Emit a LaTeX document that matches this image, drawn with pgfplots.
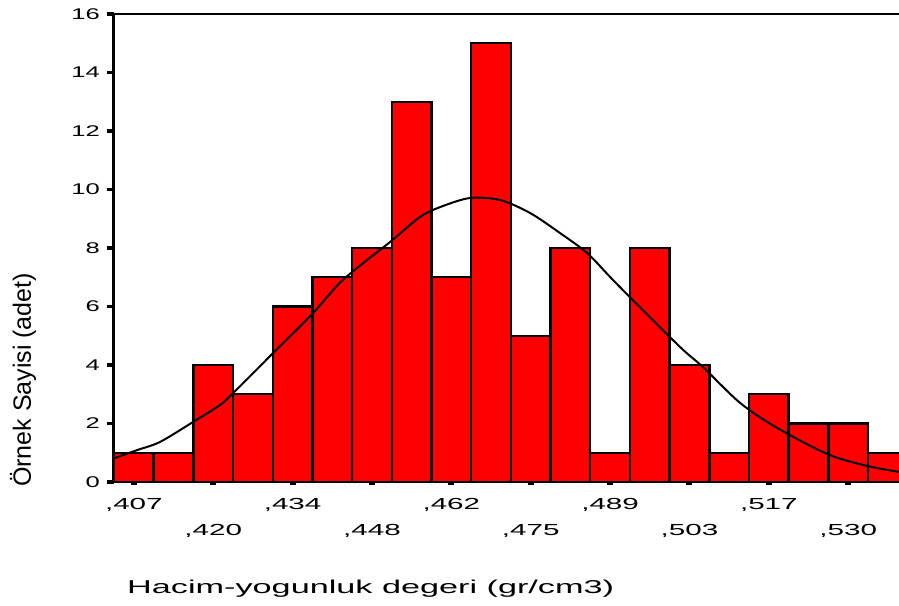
\documentclass[border=0pt]{standalone}
\usepackage{graphicx}
\usepackage{fontspec}
\setmainfont{Liberation Sans}
\usepackage{pgfplots}
\pgfplotsset{compat=1.18}

% wide, flat lettering for the tick labels and the x label
\newcommand\sx[1]{\scalebox{1.65}[1]{\fontsize{7.75}{9}\selectfont #1}}
\newcommand\tx[1]{\scalebox{1.85}[1]{\fontsize{8}{9}\selectfont #1}}
\newcommand\lx[1]{\scalebox{1.84}[1]{\fontsize{9.3}{11}\selectfont #1}}

\begin{document}
\begin{tikzpicture}
\begin{axis}[
  name=ax,
  scale only axis,
  width=392.5pt, height=234pt,
  xmin=0.5, xmax=20.28,
  ymin=0, ymax=16,
  axis x line=bottom, axis y line=left,
  x axis line style={-, line width=1.2pt},
  y axis line style={-, line width=1.5pt},
  tick align=outside,
  major tick length=3.5pt,
  minor tick length=1.4pt,
  ytick={0,2,...,16},
  yticklabels={\sx{0},\sx{2},\sx{4},\sx{6},\sx{8},\sx{10},\sx{12},\sx{14},\sx{16}},
  major y tick style={line width=1.6pt, black},
  major x tick style={draw=none},
  minor x tick style={line width=3pt, black},
  minor xtick={1,3,...,19},
  xtick={1,5,9,13,17},
  xticklabels={{\tx{,407}},{\tx{,434}},{\tx{,462}},{\tx{,489}},{\tx{,517}}},
  extra x ticks={3,7,11,15,19},
  extra x tick labels={{\tx{,420}},{\tx{,448}},{\tx{,475}},{\tx{,503}},{\tx{,530}}},
  extra x tick style={xticklabel style={yshift=-13pt}},
  xticklabel style={anchor=north, yshift=-1pt},
  xlabel={\lx{Hacim-yogunluk degeri (gr/cm3)}},
  xlabel style={at={(axis description cs:0.327,0)}, anchor=base, yshift=-55.5pt},
  ylabel={\fontsize{12.5}{14}\selectfont Örnek Sayisi (adet)},
  ylabel style={at={(axis description cs:-0.116,0.218)}, anchor=center},
]
% frequencies per class
\addplot[ybar, bar width=1, fill=red, draw=black, line width=1.2pt]
  coordinates {
    (1,1) (2,1) (3,4) (4,3) (5,6) (6,7) (7,8) (8,13) (9,7) (10,15)
    (11,5) (12,8) (13,1) (14,8) (15,4) (16,1) (17,3) (18,2) (19,2) (20,1)
  };
% fitted normal curve
\addplot[black, line width=1pt, smooth, tension=0.5]
  coordinates {
    (0.525,0.82) (1.08,1.09) (1.66,1.37) (2.49,2.05) (3.17,2.63)
    (3.50,3.04) (4.51,4.41) (5.52,5.78) (6.27,6.91) (7.46,8.21)
    (8.21,9.06) (8.72,9.40) (9.47,9.71) (10.23,9.64) (10.98,9.20)
    (11.74,8.51) (12.42,7.83) (13.00,7.01) (13.50,6.32) (14.76,4.62)
    (15.34,3.93) (16.28,2.70) (17.21,1.85) (18.47,0.96) (19.38,0.58)
    (20.13,0.38) (20.28,0.35)
  };
\draw[line width=1pt] (rel axis cs:0,1) -- (rel axis cs:1,1);
\end{axis}
\pgfresetboundingbox
\path ([xshift=-57pt,yshift=-61.5pt]ax.south west) rectangle ([yshift=7pt]ax.north east);
\end{tikzpicture}
\end{document}
